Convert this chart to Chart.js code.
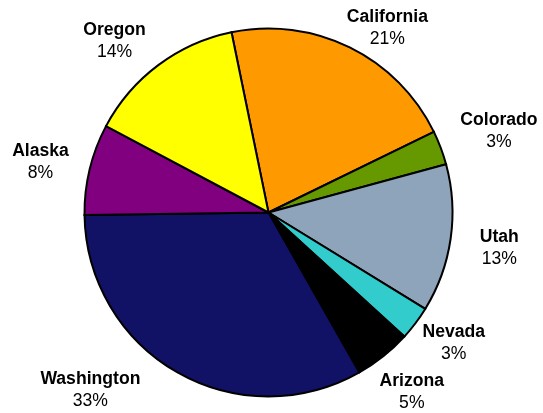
<!DOCTYPE html>
<html>
<head>
<meta charset="utf-8">
<title>States</title>
<script src="https://cdn.jsdelivr.net/npm/chart.js@4.4.1/dist/chart.umd.min.js"></script>
<style>
    html, body { margin: 0; padding: 0; background: #ffffff; }
    #wrap { position: relative; width: 543px; height: 413px; }
</style>
</head>
<body>
<div id="wrap"><canvas id="myChart"></canvas></div>
<script>
const states = ['California', 'Colorado', 'Utah', 'Nevada', 'Arizona', 'Washington', 'Alaska', 'Oregon'];
const shares = [21, 3, 13, 3, 5, 33, 8, 14];
const sliceColors = ['#ff9900', '#669900', '#8ea4bb', '#33cccc', '#000000', '#111166', '#800080', '#ffff00'];

// where each label sits: turn from the slice middle (deg) and distance past the rim (px)
const labelTurn = [6.6, 1.2, 0.6, -1.8, 0, 15.2, -1.1, -5.1];
const labelReach = [35.5, 60.3, 49.5, 42.7, 45.7, 67.9, 49.5, 46.5];

const labelPlugin = {
    id: 'outsideLabels',
    afterDatasetsDraw(chart) {
        const ctx = chart.ctx;
        const arcs = chart.getDatasetMeta(0).data;
        ctx.save();
        ctx.fillStyle = '#000000';
        ctx.textAlign = 'center';
        ctx.textBaseline = 'middle';
        arcs.forEach((arc, i) => {
            const mid = (arc.startAngle + arc.endAngle) / 2 + labelTurn[i] * Math.PI / 180;
            const dist = arc.outerRadius + labelReach[i];
            const x = arc.x + Math.cos(mid) * dist;
            const y = arc.y + Math.sin(mid) * dist;
            ctx.font = 'bold 17.6px "Liberation Sans", Arial, sans-serif';
            ctx.fillText(states[i], x, y - 11);
            ctx.font = '17.6px "Liberation Sans", Arial, sans-serif';
            ctx.fillText(shares[i] + '%', x, y + 11);
        });
        ctx.restore();
    }
};

new Chart(document.getElementById('myChart').getContext('2d'), {
    type: 'pie',
    data: {
        labels: states,
        datasets: [{
            data: shares,
            backgroundColor: sliceColors,
            borderColor: '#000000',
            borderWidth: 2,
            borderJoinStyle: 'miter'
        }]
    },
    options: {
        responsive: true,
        maintainAspectRatio: false,
        animation: false,
        rotation: -11.6,
        layout: {
            padding: { left: 83.5, right: 89.5, top: 27.5, bottom: 15.5 }
        },
        plugins: {
            legend: { display: false },
            tooltip: { enabled: false }
        }
    },
    plugins: [labelPlugin]
});
</script>
</body>
</html>
